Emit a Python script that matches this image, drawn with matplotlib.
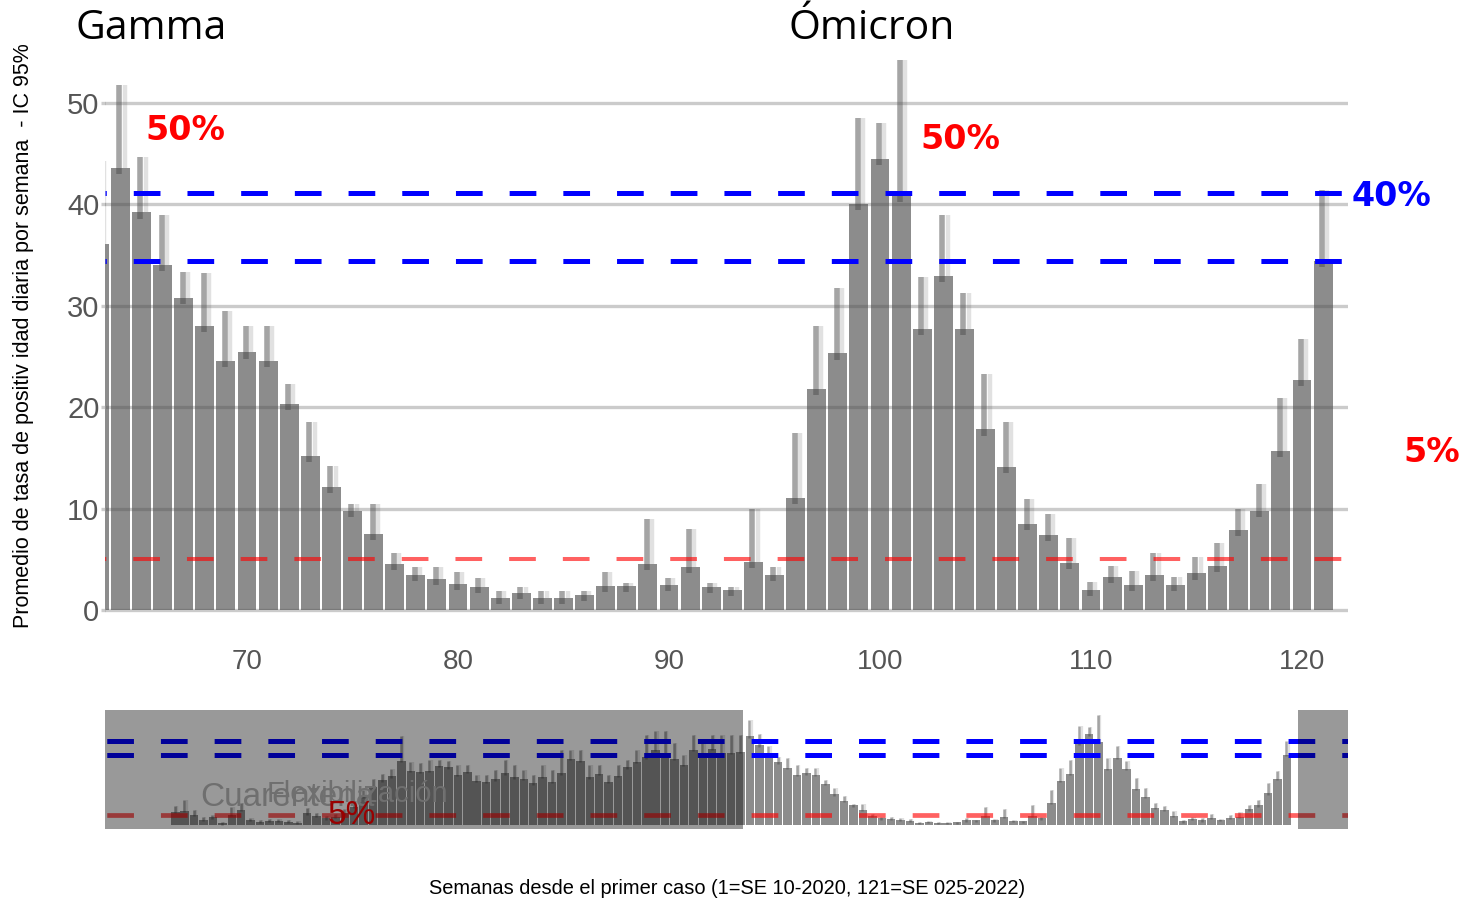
import matplotlib
matplotlib.use("Agg")
import matplotlib.pyplot as plt
import numpy as np

plt.rcParams['lines.scale_dashes'] = False

# ---------------- data ----------------
weeks = list(range(1, 122))
positivity = [
    0, 0, 6.5, 7.0, 5.0, 2.6, 3.9, 1.0, 5.0, 7.5,
    2.6, 1.8, 2.3, 2.3, 1.8, 1.3, 5.9, 4.6, 3.4, 4.2,
    5.9, 9.0, 14.0, 18.6, 22.0, 24.0, 31.5, 26.8, 26.3, 26.8,
    29.1, 28.4, 24.7, 26.3, 21.7, 21.2, 22.5, 25.5, 23.5, 22.9,
    20.6, 23.9, 21.2, 25.5, 32.4, 31.5, 23.5, 25.2, 21.2, 24.2,
    28.4, 31.0, 33.3, 36.9, 35.3, 32.5, 29.6, 36.9, 35.3, 37.3,
    35.3, 35.6, 36.1, 43.6, 39.2, 34.0, 30.8, 28.0, 24.6, 25.4,
    24.6, 20.3, 15.2, 12.1, 9.75, 7.5, 4.5, 3.45, 3.06, 2.57,
    2.27, 1.18, 1.68, 1.18, 1.18, 1.48, 2.37, 2.37, 4.54, 2.47,
    4.24, 2.27, 1.97, 4.74, 3.45, 11.05, 21.8, 25.3, 40.0, 44.5,
    40.8, 27.7, 32.9, 27.7, 17.8, 14.1, 8.5, 7.4, 4.66, 1.94,
    3.3, 2.43, 3.5, 2.5, 3.6, 4.3, 7.85, 9.8, 15.7, 22.7,
    34.45,
]
upper_ci = [
    0, 0, 9.5, 12.5, 7.5, 4.2, 5.0, 1.8, 8.8, 10.8,
    3.5, 2.6, 3.0, 3.0, 2.6, 2.0, 8.3, 6.0, 4.5, 5.5,
    8.0, 12.0, 17.5, 22.5, 25.0, 27.5, 44.0, 31.0, 30.5, 32.0,
    32.0, 31.5, 29.5, 29.5, 24.5, 24.6, 27.0, 32.0, 29.5, 27.0,
    24.6, 29.5, 27.0, 37.0, 37.0, 37.0, 29.5, 29.5, 24.6, 29.5,
    32.0, 37.0, 44.3, 46.0, 46.0, 40.2, 34.5, 44.3, 42.0, 44.3,
    44.3, 44.3, 44.3, 51.8, 44.7, 39.0, 33.3, 33.2, 29.5, 28.0,
    28.0, 22.3, 18.5, 14.2, 10.5, 10.5, 5.6, 4.2, 4.2, 3.7,
    3.2, 1.84, 2.27, 1.84, 1.84, 1.84, 3.7, 2.7, 9.0, 3.2,
    8.0, 2.7, 2.27, 9.97, 4.2, 17.5, 28.0, 31.8, 48.5, 48.0,
    54.2, 32.8, 39.0, 31.3, 23.3, 18.5, 10.9, 9.5, 7.1, 2.8,
    4.3, 3.8, 5.65, 3.3, 5.2, 6.6, 10.0, 12.4, 20.9, 26.7,
    41.4,
]
threshold_blue = [41.1, 34.4]
threshold_red = 5
yticks = [0, 10, 20, 30, 40, 50]
xticks = [70, 80, 90, 100, 110, 120]
zoom_range = (63.27, 122.18)
context_range = (-4.46, 127.49)

W = np.array(weeks, dtype=float)
V = np.array(positivity)
U = np.array(upper_ci)
has = V > 0
We, Ve, Ue = W[has], V[has], U[has]

# ---------------- figure ----------------
FW, FH = 1462, 905
fig = plt.figure(figsize=(FW / 100, FH / 100), dpi=100)

def px_axes(l, t, r, b):
    return fig.add_axes([l / FW, 1 - b / FH, (r - l) / FW, (b - t) / FH])

REG = ['Liberation Sans', 'DejaVu Sans']
TITLE = ['Open Sans', 'Lato', 'DejaVu Sans']
BAR = '#8c8c8c'

dash_on = 26.7 / 1.389
dash_off = 27.0 / 1.389

# ---------------- main panel ----------------
ax = px_axes(105, 55, 1348, 625)
ax.set_xlim(*zoom_range)
ax.set_ylim(-1.48, 54.73)
for s in ax.spines.values():
    s.set_visible(False)

ax.bar(W, V, width=0.9, color=BAR, zorder=1)
ax.vlines(We - 0.05, Ve - 0.6, Ue, colors='#4d4d4d', alpha=0.5, lw=4.0, zorder=2)
ax.vlines(We + 0.2, Ve, Ue, colors='#4d4d4d', alpha=0.17, lw=3.2, zorder=2)

for yv in yticks:
    ax.axhline(yv, color='#4d4d4d', alpha=0.29, lw=2.4, zorder=3)

ax.axhline(threshold_red, color='red', alpha=0.62, lw=2.9, zorder=4,
           linestyle=(18.3, (dash_on, dash_off)))
for yv in threshold_blue:
    ax.axhline(yv, color='#0000ff', lw=3.6, zorder=5,
               linestyle=(18.3, (dash_on, dash_off)))

ax.set_yticks(yticks)
ax.set_yticklabels([str(v) for v in yticks], family=REG, fontsize=21, color='#555555')
ax.set_xticks(xticks)
ax.set_xticklabels([str(v) for v in xticks], family=REG, fontsize=20, color='#555555')
ax.tick_params(axis='y', length=3, width=2.4, color='#cccccc', pad=1)
ax.tick_params(axis='x', length=0, pad=17)

ax.text(61.85, 57.3, 'Gamma', fontsize=29.5, family=TITLE,
        color='black', va='center', ha='left', clip_on=False)
ax.text(99.6, 57.3, 'Ómicron', fontsize=29.5, family=TITLE,
        color='black', va='center', ha='center', clip_on=False)
ax.text(65.17, 47.3, '50%', fontsize=24, fontweight='bold', color='red',
        va='center', ha='left', family='DejaVu Sans')
ax.text(101.9, 46.4, '50%', fontsize=24, fontweight='bold', color='red',
        va='center', ha='left', family='DejaVu Sans')
ax.text(122.37, 40.8, '40%', fontsize=24, fontweight='bold', color='#0000ff',
        va='center', ha='left', family='DejaVu Sans', clip_on=False)
ax.text(124.79, 15.5, '5%', fontsize=24, fontweight='bold', color='red',
        va='center', ha='left', family='DejaVu Sans', clip_on=False)

fig.text(24 / FW, 1 - 336 / FH,
         'Promedio de tasa de positiv idad diaria por semana  - IC 95%',
         rotation=90, va='center', ha='center', fontsize=15.5, family=REG,
         color='black')
fig.text(727 / FW, 1 - 888 / FH,
         'Semanas desde el primer caso (1=SE 10-2020, 121=SE 025-2022)',
         va='center', ha='center', fontsize=14.4, family=REG, color='black')

# ---------------- context panel ----------------
cx = px_axes(105, 710, 1348, 829)
cx.set_xlim(*context_range)
cx.set_ylim(-1.8, 56.5)
for s in cx.spines.values():
    s.set_visible(False)
cx.set_xticks([])
cx.set_yticks([])

cx.bar(W, V, width=0.9, color=BAR, zorder=1)
cx.vlines(We - 0.05, Ve - 0.6, Ue, colors='#4d4d4d', alpha=0.5, lw=1.8, zorder=2)
cx.vlines(We + 0.2, Ve, Ue, colors='#4d4d4d', alpha=0.17, lw=1.6, zorder=2)
cx.axhline(threshold_red, color='red', alpha=0.62, lw=3.4, zorder=4,
           linestyle=(37.4, (dash_on, dash_off)))
for yv in threshold_blue:
    cx.axhline(yv, color='#0000ff', lw=3.6, zorder=5,
               linestyle=(37.4, (dash_on, dash_off)))

cx.text(5.6, 9.5, 'Cuarentena', fontsize=24, family=REG, color='#b9b9b9',
        va='baseline', ha='left', zorder=6)
cx.text(12.7, 11.3, 'Flexibilización', fontsize=21, family=REG, color='#b9b9b9',
        va='baseline', ha='left', zorder=6)
cx.text(19.2, 0.6, '5%', fontsize=24, family=REG, color='red',
        va='baseline', ha='left', zorder=6)

cx.axvspan(context_range[0], zoom_range[0], color='black', alpha=0.4, lw=0, zorder=10)
cx.axvspan(zoom_range[1], context_range[1], color='black', alpha=0.4, lw=0, zorder=10)

fig.savefig('out.png', dpi=100)
